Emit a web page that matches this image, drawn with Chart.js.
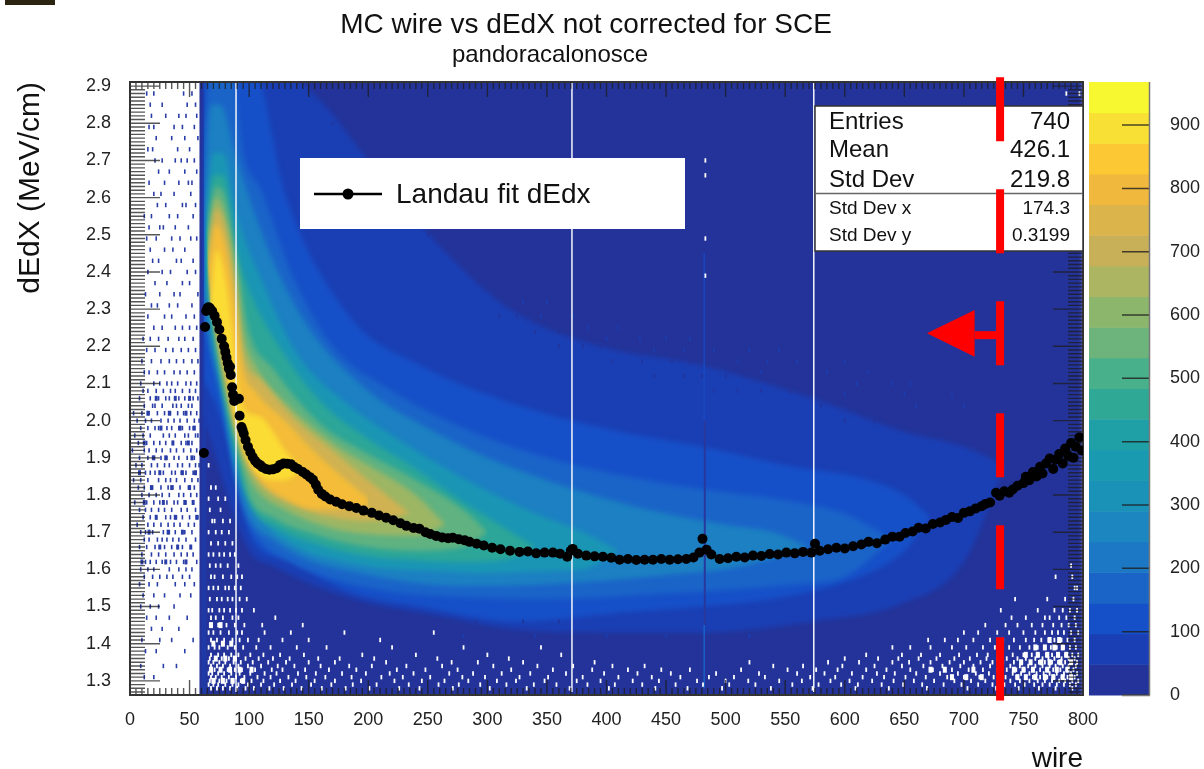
<!DOCTYPE html>
<html><head><meta charset="utf-8">
<script src="https://cdn.jsdelivr.net/npm/chart.js@4"></script>
<style>html,body{margin:0;padding:0;background:#fff}#w{position:relative;width:1204px;height:769px}canvas{display:block}</style>
</head><body><div id="w"><canvas id="c" width="1204" height="769"></canvas></div>
<script>
const xTicks=[0,50,100,150,200,250,300,350,400,450,500,550,600,650,700,750,800];
const yTicks=[1.3,1.4,1.5,1.6,1.7,1.8,1.9,2.0,2.1,2.2,2.3,2.4,2.5,2.6,2.7,2.8,2.9];
const zTicks=[0,100,200,300,400,500,600,700,800,900];
const zEdges=[0,48.4,96.8,145.2,193.6,242,290.4,338.8,387.2,435.6,484,532.4,580.8,629.2,677.6,726,774.4,822.8,871.2,919.6,968];
const zColors=['#233399','#1a3fb4','#1650c8','#1a64c8','#1c78c4','#1c86c0','#1a92b8','#1a9ab0','#1f9fa6','#30a896','#48b08a','#6cb47c','#8cb66c','#acb662','#c8b058','#dcb44c','#f0b83c','#fcc834','#f8e034','#f8f830'];

const baseWires=[0,801], baseLow=[1.2,1.2], baseHigh=[3,3];
const stripWires=[60.5,64], stripLow=[1.2,1.2], stripHigh=[3,3];
const maskWires=[-5,58.5], maskLow=[1.2,1.2], maskHigh=[3,3];

const wL50=[62,100,120,160,200,260,319,394,478,573,650,700,735];
const hiL50=[2.95,2.95,2.95,2.86,2.7,2.47,2.3,2.2,2.15,2.06,1.97,1.93,1.88];
const loL50=[2.0,1.65,1.61,1.55,1.51,1.475,1.44,1.43,1.43,1.46,1.51,1.62,1.88];

const wL100=[62,75,90,103,131,187,243,327,411,480,550,620,650,672];
const hiL100=[2.95,2.95,2.95,2.95,2.6,2.27,2.15,2.04,1.97,1.93,1.88,1.84,1.8,1.74];
const loL100=[2.11,2.02,1.84,1.68,1.625,1.537,1.5,1.46,1.483,1.5,1.526,1.59,1.65,1.74];

const wL150=[62,68,85,95,110,135,170,220,280,350,450,560,600,640];
const hiL150=[2.75,2.95,2.95,2.72,2.62,2.4,2.2,2.08,1.98,1.9,1.83,1.78,1.75,1.68];
const loL150=[2.26,2.18,1.92,1.76,1.675,1.62,1.575,1.54,1.525,1.52,1.535,1.56,1.58,1.68];

const wL200=[62,68,76,88,100,120,150,200,250,300,350,400,450,500,540,570];
const hiL200=[2.55,2.85,2.85,2.72,2.6,2.43,2.25,2.08,1.98,1.9,1.84,1.79,1.75,1.72,1.7,1.66];
const loL200=[2.34,2.2,2.08,1.86,1.74,1.68,1.625,1.585,1.56,1.555,1.56,1.57,1.585,1.6,1.63,1.66];

const wL300=[63,70,78,90,110,140,180,220,260,300,340,380,410];
const hiL300=[2.5,2.72,2.72,2.55,2.38,2.18,2.05,1.96,1.88,1.81,1.75,1.7,1.65];
const loL300=[2.36,2.2,2.08,1.88,1.74,1.66,1.62,1.6,1.595,1.59,1.595,1.6,1.65];

const wL400=[64,70,78,90,100,125,160,200,240,280,320,340];
const hiL400=[2.5,2.66,2.66,2.45,2.35,2.2,2.05,1.95,1.87,1.78,1.7,1.66];
const loL400=[2.42,2.26,2.1,1.9,1.78,1.71,1.665,1.635,1.625,1.62,1.63,1.66];

const wL500=[64.5,72,80,90,100,120,160,200,240,280,300];
const hiL500=[2.5,2.63,2.6,2.42,2.24,2.14,1.99,1.91,1.84,1.76,1.7];
const loL500=[2.44,2.22,2.07,1.93,1.8,1.74,1.69,1.66,1.65,1.66,1.7];

const wL600=[65,72,80,90,95,105,130,170,200,240,265];
const hiL600=[2.45,2.6,2.55,2.38,2.24,2.15,2.05,1.94,1.88,1.8,1.72];
const loL600=[2.42,2.24,2.09,1.95,1.89,1.82,1.76,1.71,1.695,1.69,1.72];

const wL700=[65.5,72,80,88,95,110,140,170,200,235];
const hiL700=[2.44,2.57,2.52,2.36,2.18,2.11,2.0,1.92,1.84,1.75];
const loL700=[2.42,2.26,2.12,1.99,1.91,1.83,1.77,1.74,1.73,1.75];

const wL800=[66,72,80,88,95,105,130,160,200];
const hiL800=[2.42,2.53,2.47,2.32,2.14,2.08,2.0,1.9,1.79];
const loL800=[2.4,2.28,2.15,2.02,1.94,1.86,1.79,1.76,1.77];

const wL900=[67,73,80,86,92,100,110,120,130,145];
const hiL900=[2.31,2.46,2.38,2.24,2.07,2.02,2.01,1.97,1.92,1.87];
const loL900=[2.3,2.29,2.18,2.05,1.96,1.89,1.85,1.84,1.84,1.87];

const gapWires=[89,371,574];
const fitWires=[62,63,64,65,66,67,69,71,73,75,77,79,80,81,82,83,84,84.6,85.7,86.5,87.5,91.4,92,93.6,94.5,95.5,97,99,101,103,105,107,109,111,114,117,120,123,126,129,132,135,138,141,145,148,151,153.6,156,158,161,164,168,173,178,184,190,196,203,209,215,221,227,232,238,243,248,252,257,262,267,271,276,281,285,291,297,304,311,319,327,334,341,348,355,361,367,370,371.6,376,383,390,397,404,411,418,425,432,439,446,453,460,467,473,478,480.6,484,488,495,502,509,516,523,530,537,544,551,558,565,572,575,579,586,593,600,607,614,620,627,634,640,646,651,657,662,668,674,680,685,690,695,700,705,710,715,718,722,727,730,734,738,741,745,750,752,755,758,761,764,766,769,772,775,777,780,783,785,788,790,792,794,797,799];
const fitValues=[1.913,2.252,2.295,2.303,2.305,2.303,2.295,2.282,2.265,2.245,2.22,2.2,2.185,2.17,2.155,2.14,2.145,2.123,2.09,2.07,2.053,2.059,2.013,1.983,1.975,1.965,1.948,1.93,1.915,1.902,1.892,1.885,1.881,1.875,1.87,1.868,1.869,1.872,1.881,1.885,1.884,1.883,1.875,1.87,1.862,1.855,1.848,1.841,1.828,1.814,1.803,1.796,1.788,1.782,1.775,1.77,1.765,1.758,1.752,1.745,1.739,1.732,1.724,1.717,1.711,1.709,1.7,1.695,1.69,1.686,1.684,1.685,1.681,1.678,1.674,1.669,1.664,1.658,1.654,1.65,1.647,1.648,1.643,1.645,1.645,1.642,1.634,1.65,1.655,1.642,1.637,1.635,1.634,1.631,1.626,1.628,1.625,1.626,1.626,1.628,1.626,1.627,1.628,1.632,1.645,1.682,1.653,1.64,1.628,1.63,1.634,1.632,1.637,1.636,1.641,1.64,1.645,1.643,1.647,1.645,1.669,1.65,1.654,1.658,1.656,1.662,1.667,1.674,1.67,1.68,1.688,1.688,1.698,1.702,1.712,1.71,1.722,1.726,1.733,1.741,1.738,1.752,1.756,1.764,1.77,1.776,1.78,1.806,1.798,1.81,1.806,1.815,1.825,1.832,1.849,1.84,1.862,1.85,1.876,1.858,1.885,1.898,1.87,1.895,1.91,1.885,1.925,1.905,1.94,1.9,1.93,1.955,1.92,1.967,1.916];

const navyY=[2.88,2.85,2.82,2.79,2.76,2.73,2.70,2.67,2.64,2.61,2.58,2.55,2.52,2.49,2.46,2.43,2.40,2.37,2.34,2.31,2.28,2.25,2.22,2.19,2.16,2.13,2.10,2.08,2.06,2.04,2.02,2.00,1.98,1.96,1.94,1.92,1.90,1.88,1.86,1.84,1.82,1.80,1.78,1.76,1.74,1.72,1.70,1.68,1.66,1.64,1.62,1.60,1.58,1.56,1.53,1.50,1.47,1.44,1.41,1.38,1.34,1.31];
const navyWires=[[14,20,45,52],[17,27,48,55],[18,30,41,47,56],[16,20,37,44,54],[22,35,46,57],[15,19,40,50],[21,27,38,43,48,54],[24,33,46,56],[16,29,41,49,52],[20,26,37,51],[23,30,44,47,55],[12,18,33,40,53],[16,25,28,38,49],[14,22,35,42,51,56],[17,29,36,46],[19,24,39,43,53],[15,27,34,48,55],[21,31,44,50],[13,25,37,42,57],[18,23,33,40,52],[15,29,35,47,54],[20,27,38,44,50,56],[11,17,24,32,41,46,53],[14,21,30,36,43,49,55],[10,18,26,33,39,45,52,57],[12,16,23,29,37,42,48,54],[9,20,25,31,35,40,47,51,56],[11,15,22,28,34,38,44,50,55],[8,17,24,30,33,41,46,53,57],[12,19,21,27,36,39,43,49,52],[3,10,16,23,29,34,40,45,51,56],[6,13,18,26,32,37,42,48,54,58],[9,15,21,24,31,35,41,44,50,53],[4,11,17,28,33,38,46,49,55,57],[7,14,20,25,30,36,43,47,52],[2,12,16,22,27,34,39,45,51,56],[8,15,19,26,31,37,41,48,54],[5,10,18,23,29,33,40,44,50,55,58],[13,17,21,28,35,38,43,47,53],[3,9,15,24,30,34,39,46,52,57],[7,12,19,26,32,36,42,49,54],[10,16,22,27,33,41,45,51,56],[4,14,20,25,31,37,40,47,53],[8,13,18,24,29,35,43,48,55],[11,17,22,30,34,39,44,50,57],[6,15,20,26,32,37,42,49,54],[9,13,19,28,33,38,46,52],[12,16,23,27,31,36,41,47,55],[8,14,21,29,35,40,44,51],[10,18,24,30,37,43,48,53],[13,17,22,27,34,39,45,56],[9,15,20,33,41,47,52],[12,19,25,31,36,44,50],[8,16,23,38,46,54],[11,20,29,42,51],[9,17,24,37],[14,22,33,48],[18,27,41],[10,25,35,53],[13,22,46],[9,28,39],[12,20]];
const navyBlobY=[2.06,2.02,1.98,1.94,1.90,1.86,1.82,1.78,1.74,1.70,1.66,1.62];
const navyBlobWires=[[22,38,50],[15,33,47],[26,42,54],[12,36,49],[20,30,52],[8,25,44,55],[18,35,50],[12,28,46,53],[22,38,56],[16,32,44],[25,40,51],[10,30,47]];

const whiteY=[2.88,2.70,2.66,2.49,2.39,1.88,1.82,1.79,1.76,1.73,1.70,1.67,1.64,1.61,1.58,1.55,1.52,1.49,1.47,1.45,1.43,1.41,1.39,1.37,1.36,1.35,1.34,1.33,1.32,1.31,1.30,1.29,1.28];
const whiteWires=[[786,797],[483],[483],[483],[483],[66],[68,72],[66,74,80],[67,76],[69,71,78,84],[66,72,77,83],[68,74,80,86],[66,70,75,79,84,88],[67,72,76,82,91,790],[68,71,78,85,90,94,777,791],[66,70,74,80,83,88,93,793,795],[67,73,77,82,86,92,98,743,770,785,792],[66,69,75,79,84,89,94,104,731,762,776,783,789,795],[68,72,78,86,91,122,740,752,768,772,780,786,793],[67,74,81,88,96,111,145,718,735,745,757,766,775,782,788,794],[66,70,76,83,90,94,113,135,180,255,700,712,728,738,750,760,768,774,779,784,790,796],[68,73,79,86,92,99,108,128,150,210,670,684,695,708,722,733,742,752,759,765,771,776,782,787,793],[66,71,75,82,88,95,106,118,140,165,220,280,345,640,655,672,690,702,716,726,738,747,755,762,768,773,778,784,789,794],[68,74,79,85,91,101,112,126,146,195,240,300,362,618,648,664,680,696,711,720,731,741,750,757,763,769,774,780,785,791,796],[67,72,77,83,89,97,108,120,134,158,176,205,258,318,600,628,645,662,677,692,705,719,728,736,745,752,760,766,771,776,782,788,793],[66,70,75,80,87,93,103,116,131,150,172,215,270,292,330,390,520,586,612,640,654,672,688,700,714,724,733,742,749,756,763,768,774,779,785,790,795],[68,73,78,84,91,99,110,124,138,160,184,203,232,262,305,342,372,405,432,540,565,598,625,648,666,682,697,708,722,730,739,747,754,760,766,772,777,783,788,794],[67,71,76,82,88,94,105,119,128,147,167,190,224,248,275,320,355,388,418,446,470,513,552,576,594,618,635,655,674,690,704,716,728,736,744,751,758,764,769,775,781,786,792],[66,69,74,79,85,92,101,113,123,141,156,178,198,218,238,268,288,312,336,366,398,426,454,492,528,560,583,606,627,642,660,680,695,710,721,731,741,748,755,761,767,772,778,784,790,795],[68,72,77,83,89,96,107,118,133,148,164,186,211,229,252,279,298,327,351,380,410,438,462,486,507,533,571,592,615,633,651,668,686,700,713,725,735,744,752,758,764,770,776,782,787,793],[67,71,75,81,87,93,102,112,126,139,155,172,194,222,245,264,284,308,324,348,375,395,422,444,476,500,519,545,564,588,604,623,641,658,675,692,706,718,729,739,747,755,762,768,774,780,785,791,796],[66,70,74,80,86,91,99,110,121,136,152,169,187,207,234,259,276,294,316,339,358,384,407,430,458,481,503,525,556,578,597,611,631,649,665,683,698,712,724,734,743,751,759,766,772,778,784,789,794],[68,73,78,84,90,97,104,117,129,144,161,181,201,226,243,271,302,333,369,402,441,468,497,538,573,609,637,669,703,727,746,763,777,791]];
const whiteBlobY=[1.45,1.41,1.40,1.39,1.37,1.36,1.35,1.33,1.31,1.30];
const whiteBlobWires=[[68,76],[772,780],[70,78,85],[760,768,776,783],[752,762,770,779,786],[72,80,88],[748,756,765,772,781,790],[68,76,84,92,102,672,684,708,742,750,758,770,778,787],[690,702,715,745,752,760,768,775,783,790],[70,78,86,95]];

const grainBlueY=[2.32,2.28,2.25,2.22,2.19,2.16,2.13,2.10,2.07,2.04,1.42];
const grainBlueWires=[[330,350],[300,345,372],[385,410],[400,428,450,470],[440,465,490,520,545],[510,535,560,600],[498,530,585,620],[610,640,655],[600,650,690],[660,700],[280,340,400,450,520]];
const grainNavyY=[2.8,2.7,2.6,2.5,2.28,2.24,2.2,2.16,2.12,2.08,2.04,2.0,1.46];
const grainNavyWires=[[170,180],[200,215],[225,240],[250,262],[310,325],[340,360,380],[360,380,395,415],[405,430,455,470],[440,465,480,500,520,540],[490,510,530,555,570],[580,610,630,645],[600,625,660,680],[250,290,330,360]];

const redWire=[730.4,730.4], redY=[2.924,1.247];
const arrowWire=[669,709,709,669], arrowY=[2.235,2.298,2.172,2.235];
const stemWire=[709,730], stemY=[2.23,2.23];
const statsLarge=[['Entries','740'],['Mean','426.1'],['Std Dev','219.8']];
const statsSmall=[['Std Dev x','174.3'],['Std Dev y','0.3199']];

const FONT='"Liberation Sans", Arial, sans-serif';
const contours=[
 [baseWires,baseLow,baseHigh,'#233399'],
 [stripWires,stripLow,stripHigh,'#1a3fb4'],
 [wL50,loL50,hiL50,'#1a3fb4'],
 [wL100,loL100,hiL100,'#1650c8'],
 [wL150,loL150,hiL150,'#1a64c8'],
 [wL200,loL200,hiL200,'#1c80c2'],
 [wL300,loL300,hiL300,'#1a96b4'],
 [wL400,loL400,hiL400,'#2ca698'],
 [wL500,loL500,hiL500,'#60b280'],
 [wL600,loL600,hiL600,'#9cb664'],
 [wL700,loL700,hiL700,'#d0b252'],
 [wL800,loL800,hiL800,'#f4bc38'],
 [wL900,loL900,hiL900,'#fbdc34']
];
const pts=(a,b)=>a.map((v,i)=>({x:v,y:b[i]}));
const seq=[];
const addBand=(w,lo,hi,col)=>{
  const mode=(w.length>2)?'monotone':'default';
  seq.push({type:'line',data:pts(w,lo),borderWidth:0,pointRadius:0,cubicInterpolationMode:mode,fill:false});
  seq.push({type:'line',data:pts(w,hi),borderWidth:0,pointRadius:0,cubicInterpolationMode:mode,fill:seq.length-1,backgroundColor:col});
};
contours.forEach(([w,lo,hi,col])=>addBand(w,lo,hi,col));
const lastBlur=seq.length-1;
addBand(maskWires,maskLow,maskHigh,'#ffffff');
const speck=(ys,rows,col,lw,r)=>{const d=[];ys.forEach((y,i)=>rows[i].forEach(w=>d.push({x:w,y})));
  return {type:'line',showLine:false,data:d,pointStyle:'line',rotation:90,pointRadius:r,pointBorderWidth:lw,pointBorderColor:col,pointBackgroundColor:col,borderColor:col,fill:false};};
seq.push(speck(grainBlueY,grainBlueWires,'#1a3fb4',1.5,2));
seq.push(speck(grainNavyY,grainNavyWires,'#233399',1.5,2));
const vline=(w,y0,y1,col,lw)=>({type:'line',data:[{x:w,y:y0},{x:w,y:y1}],borderColor:col,borderWidth:lw,pointRadius:0,fill:false});
gapWires.forEach(w=>seq.push(vline(w,1.27,2.911,'#f4f6fb',1.5)));
seq.push(vline(482,2.45,2.0,'#1a48c0',1.5));
seq.push(vline(482.5,2.0,1.45,'#28389c',2));
seq.push(vline(482,1.45,1.28,'#1a60c8',1.5));
seq.push(speck(navyY,navyWires,'#2a3ea8',1.6,2.2));
seq.push(speck(navyBlobY,navyBlobWires,'#2a3ea8',3,2.5));
seq.push(speck(whiteY,whiteWires,'#ffffff',1.8,2.2));
seq.push(speck(whiteBlobY,whiteBlobWires,'#ffffff',4,3));
const fitIdx=seq.length;
seq.push({type:'line',showLine:false,data:pts(fitWires,fitValues),pointStyle:'circle',pointRadius:5,pointBackgroundColor:'#000',pointBorderColor:'#000',pointBorderWidth:0,borderColor:'#000',fill:false});
const redIdx=seq.length;
seq.push({type:'line',data:pts(redWire,redY),borderColor:'#ff0000',borderWidth:8,borderDash:[64,48],borderCapStyle:'butt',pointRadius:0,fill:false,clip:false});
seq.push({type:'line',data:pts(stemWire,stemY),borderColor:'#ff0000',borderWidth:8,pointRadius:0,fill:false});
seq.push({type:'line',data:pts(arrowWire,arrowY),borderColor:'#ff0000',borderWidth:0,backgroundColor:'#ff0000',pointRadius:0,fill:'shape'});
seq.forEach((d,i)=>{d.order=seq.length-i;});

function drawTicks(c){
  const {ctx,chartArea:a,scales:{x,y}}=c;
  ctx.save();
  ctx.strokeStyle='rgba(30,30,30,0.75)';
  ctx.lineWidth=1.4;
  ctx.beginPath();
  for(let k=0;k<=160;k++){
    const v=k*5,p=x.getPixelForValue(v),L=(k%10===0)?15:7;
    ctx.moveTo(p,a.top);ctx.lineTo(p,a.top+L);
    ctx.moveTo(p,a.bottom);ctx.lineTo(p,a.bottom-L);
  }
  for(let k=0;k<=164;k++){
    const v=1.27+k*0.01,p=y.getPixelForValue(v),major=Math.round(v*100)%10===0,L=major?30:15;
    ctx.moveTo(a.left,p);ctx.lineTo(a.left+L,p);
    ctx.moveTo(a.right,p);ctx.lineTo(a.right-L,p);
  }
  ctx.stroke();
  ctx.lineWidth=2;ctx.strokeStyle='#333';
  ctx.strokeRect(a.left,a.top,a.right-a.left,a.bottom-a.top);
  ctx.restore();
}
function drawBoxes(c){
  const {ctx}=c;
  ctx.save();
  ctx.fillStyle='#fff';ctx.fillRect(300,158,385,71);
  ctx.strokeStyle='#000';ctx.lineWidth=2.5;
  ctx.beginPath();ctx.moveTo(314,194);ctx.lineTo(382,194);ctx.stroke();
  ctx.fillStyle='#000';ctx.beginPath();ctx.arc(348,194,5.5,0,Math.PI*2);ctx.fill();
  ctx.font='28px '+FONT;ctx.textBaseline='middle';ctx.textAlign='left';ctx.fillStyle='#111';
  ctx.fillText('Landau fit dEdx',396,195);
  ctx.fillStyle='#fff';ctx.fillRect(815,106,268,145);
  ctx.strokeStyle='#333';ctx.lineWidth=1.5;ctx.strokeRect(815,106,268,145);
  ctx.strokeStyle='#666';ctx.beginPath();ctx.moveTo(815,193.5);ctx.lineTo(1083,193.5);ctx.stroke();
  ctx.fillStyle='#111';
  ctx.font='24px '+FONT;
  statsLarge.forEach((r,i)=>{const py=[122,150,180][i];ctx.textAlign='left';ctx.fillText(r[0],829,py);ctx.textAlign='right';ctx.fillText(r[1],1070,py);});
  ctx.font='19px '+FONT;
  statsSmall.forEach((r,i)=>{const py=[209,236][i];ctx.textAlign='left';ctx.fillText(r[0],829,py);ctx.textAlign='right';ctx.fillText(r[1],1070,py);});
  ctx.restore();
}
const deco={id:'deco',
  beforeDatasetsDraw(c){ c.ctx.filter='blur(2.5px)'; },
  afterDatasetDraw(c,args){ if(args.index===lastBlur)c.ctx.filter='none'; },
  beforeDatasetDraw(c,args){ if(args.index===fitIdx)drawTicks(c); if(args.index===redIdx)drawBoxes(c); },
  afterDraw(c){
    const {ctx,scales:{z}}=c;
    ctx.save();
    zColors.forEach((col,i)=>{const t=z.getPixelForValue(zEdges[i+1]),b=z.getPixelForValue(zEdges[i]);ctx.fillStyle=col;ctx.fillRect(1089,t,60,b-t+0.5);});
    ctx.strokeStyle='rgba(30,30,30,0.8)';ctx.lineWidth=1.5;ctx.beginPath();
    zTicks.forEach(v=>{const p=z.getPixelForValue(v);ctx.moveTo(1122,p);ctx.lineTo(1149,p);});ctx.stroke();
    ctx.strokeStyle='#777';ctx.beginPath();ctx.moveTo(1149.5,82);ctx.lineTo(1149.5,695);ctx.moveTo(1122,695.5);ctx.lineTo(1150,695.5);ctx.stroke();
    ctx.fillStyle='#2a2410';ctx.fillRect(5,0,50,5);
    ctx.fillStyle='#111';ctx.textAlign='center';ctx.textBaseline='middle';
    ctx.font='28px '+FONT;ctx.fillText('MC wire vs dEdX not corrected for SCE',586,25);
    ctx.font='24px '+FONT;ctx.fillText('pandoracalonosce',550,55);
    ctx.restore();
  }};
new Chart(document.getElementById('c'),{
  type:'line',
  data:{datasets:seq},
  plugins:[deco],
  options:{responsive:false,animation:false,events:[],
    layout:{padding:{top:82,left:0,right:0,bottom:0}},
    plugins:{legend:{display:false},tooltip:{enabled:false}},
    scales:{
      x:{type:'linear',min:0,max:800,position:'bottom',grid:{display:false,drawTicks:false},border:{display:false},
        afterFit(s){s.height=74;},
        afterBuildTicks(s){s.ticks=xTicks.map(v=>({value:v}));},
        ticks:{autoSkip:false,maxRotation:0,padding:14,color:'#222',font:{family:FONT,size:18}},
        title:{display:true,text:'wire',align:'end',color:'#111',font:{family:FONT,size:28,lineHeight:1},padding:{top:0,bottom:-4}}},
      y:{type:'linear',min:1.262,max:2.911,position:'left',grid:{display:false,drawTicks:false},border:{display:false},
        afterFit(s){s.width=130;},
        afterBuildTicks(s){s.ticks=yTicks.map(v=>({value:v}));},
        ticks:{autoSkip:false,padding:19,color:'#222',font:{family:FONT,size:18},callback:v=>Number(v).toFixed(1)},
        title:{display:true,text:'dEdX (MeV/cm)',align:'end',color:'#111',font:{family:FONT,size:30,lineHeight:1},padding:{top:16,bottom:0}}},
      z:{type:'linear',min:0,max:968,position:'right',grid:{display:false,drawTicks:true,tickLength:47},border:{display:false},
        afterFit(s){s.width=121;},
        afterBuildTicks(s){s.ticks=zTicks.map(v=>({value:v}));},
        ticks:{autoSkip:false,padding:40,color:'#222',font:{family:FONT,size:18},align:'center'}}
    }
  }
});
</script></body></html>
